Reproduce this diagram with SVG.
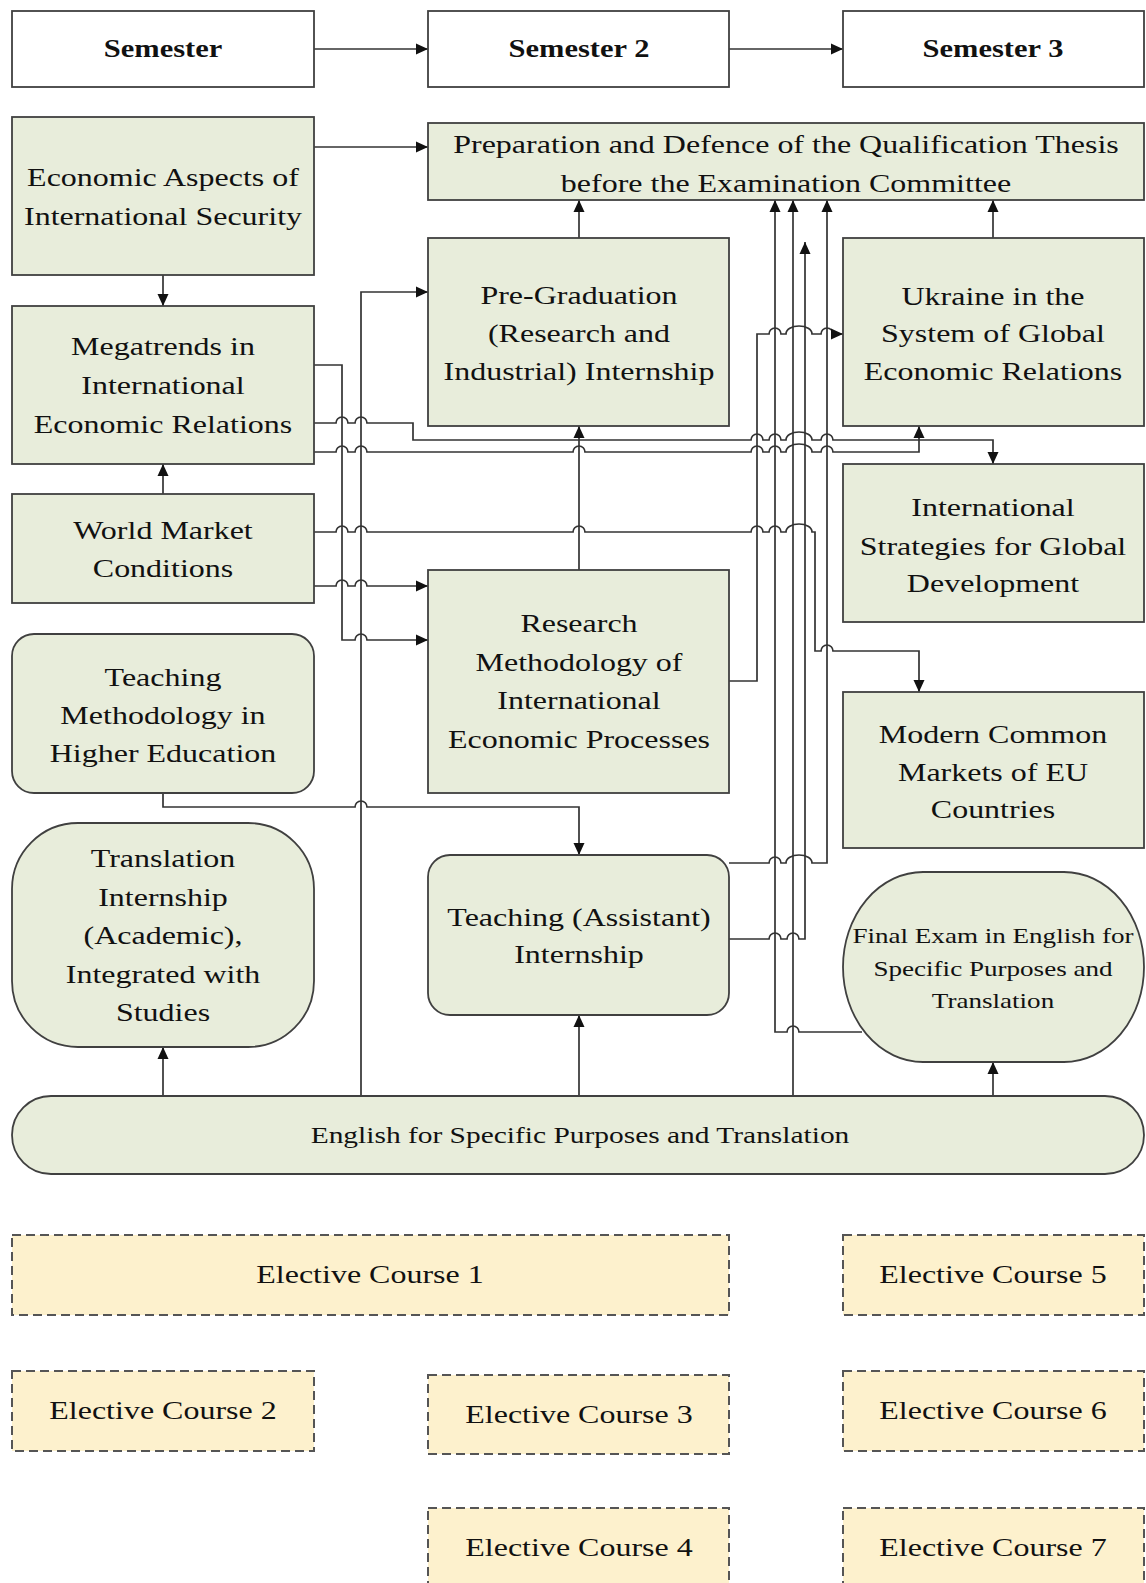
<svg xmlns="http://www.w3.org/2000/svg" width="1146" height="1583" viewBox="0 0 1146 1583">
<defs>
<marker id="ah" markerUnits="userSpaceOnUse" markerWidth="13" markerHeight="12" refX="12" refY="6" orient="auto">
<path d="M0,0.5 L12,6 L0,11.5 z" fill="#111"/>
</marker>
<style>
.hd{fill:#fff;stroke:#404040;stroke-width:1.8}
.n{fill:#e8eddb;stroke:#404040;stroke-width:1.8}
.el{fill:#fdf1cd;stroke:#555;stroke-width:2;stroke-dasharray:9 5}
.t{font-family:"Liberation Serif","Times New Roman",serif;font-size:25px;fill:#111;text-anchor:middle}
.b{font-weight:bold}
.s{font-size:21.5px}
.e{font-size:23px}
.c{fill:none;stroke:#333;stroke-width:1.7;marker-end:url(#ah)}
</style>
</defs>
<rect width="1146" height="1583" fill="#fff"/>

<g id="connectors">
<path class="c" d="M314 49 H428"/>
<path class="c" d="M729 49 H843"/>
<path class="c" d="M314 147 H428"/>
<path class="c" d="M163 275 V306"/>
<path class="c" d="M163 494 V464"/>
<path class="c" d="M163 1096 V1047"/>
<path class="c" d="M579 1096 V1015"/>
<path class="c" d="M993 1096 V1062"/>
<path class="c" d="M579 238 V200"/>
<path class="c" d="M993 238 V200"/>
<path class="c" d="M579 570 V426"/>
<path class="c" d="M163 793 V807 H355 A6 6 0 0 1 367 807 H579 V855"/>
<path class="c" d="M361 1096 V292 H428"/>
<path class="c" d="M314 365 H342 V640 H355 A6 6 0 0 1 367 640 H428"/>
<path class="c" d="M314 586 H336 A6 6 0 0 1 348 586 H355 A6 6 0 0 1 367 586 H428"/>
<path class="c" d="M314 532 H336 A6 6 0 0 1 348 532 H355 A6 6 0 0 1 367 532 H573 A6 6 0 0 1 585 532 H751 A6 6 0 0 1 763 532 H769 A6 6 0 0 1 781 532 H786 A13 8 0 0 1 812 532 H815 V651 H821 A6 6 0 0 1 833 651 H919 V692"/>
<path class="c" d="M314 423 H336 A6 6 0 0 1 348 423 H355 A6 6 0 0 1 367 423 H413 V440 H751 A6 6 0 0 1 763 440 H769 A6 6 0 0 1 781 440 H786 A13 8 0 0 1 812 440 H821 A6 6 0 0 1 833 440 H993 V464"/>
<path class="c" d="M314 452 H336 A6 6 0 0 1 348 452 H355 A6 6 0 0 1 367 452 H573 A6 6 0 0 1 585 452 H751 A6 6 0 0 1 763 452 H769 A6 6 0 0 1 781 452 H786 A13 8 0 0 1 812 452 H821 A6 6 0 0 1 833 452 H919 V426"/>
<path class="c" d="M729 681 H757 V334 H769 A6 6 0 0 1 781 334 H786 A13 8 0 0 1 812 334 H821 A6 6 0 0 1 833 334 H843"/>
<path class="c" d="M862 1032 H799 A6 6 0 0 0 787 1032 H775 V200"/>
<path class="c" d="M793 1096 V200"/>
<path class="c" d="M729 939 H769 A6 6 0 0 1 781 939 H787 A6 6 0 0 1 799 939 H805 V242"/>
<path class="c" d="M729 863 H769 A6 6 0 0 1 781 863 H786 A13 8 0 0 1 812 863 H827 V200"/>
</g>

<g id="sem1"><rect class="hd" x="12" y="11" width="302" height="76"/><text class="t b" transform="translate(163 57) scale(1.22 1)">Semester</text></g>
<g id="sem2"><rect class="hd" x="428" y="11" width="301" height="76"/><text class="t b" transform="translate(579 57) scale(1.22 1)">Semester 2</text></g>
<g id="sem3"><rect class="hd" x="843" y="11" width="301" height="76"/><text class="t b" transform="translate(993 57) scale(1.22 1)">Semester 3</text></g>

<g id="econ-aspects"><rect class="n" x="12" y="117" width="302" height="158"/>
<text class="t" transform="translate(163 186) scale(1.28 1)">Economic Aspects of</text>
<text class="t" transform="translate(163 225) scale(1.28 1)">International Security</text></g>

<g id="megatrends"><rect class="n" x="12" y="306" width="302" height="158"/>
<text class="t" transform="translate(163 355) scale(1.28 1)">Megatrends in</text>
<text class="t" transform="translate(163 394) scale(1.28 1)">International</text>
<text class="t" transform="translate(163 433) scale(1.28 1)">Economic Relations</text></g>

<g id="world-market"><rect class="n" x="12" y="494" width="302" height="109"/>
<text class="t" transform="translate(163 539) scale(1.28 1)">World Market</text>
<text class="t" transform="translate(163 577) scale(1.28 1)">Conditions</text></g>

<g id="teaching-method"><rect class="n" x="12" y="634" width="302" height="159" rx="22" ry="22"/>
<text class="t" transform="translate(163 686) scale(1.28 1)">Teaching</text>
<text class="t" transform="translate(163 724) scale(1.28 1)">Methodology in</text>
<text class="t" transform="translate(163 762) scale(1.28 1)">Higher Education</text></g>

<g id="translation-internship"><rect class="n" x="12" y="823" width="302" height="224" rx="66" ry="66"/>
<text class="t" transform="translate(163 867) scale(1.28 1)">Translation</text>
<text class="t" transform="translate(163 906) scale(1.28 1)">Internship</text>
<text class="t" transform="translate(163 944) scale(1.28 1)">(Academic),</text>
<text class="t" transform="translate(163 983) scale(1.28 1)">Integrated with</text>
<text class="t" transform="translate(163 1021) scale(1.28 1)">Studies</text></g>

<g id="thesis"><rect class="n" x="428" y="123" width="716" height="77"/>
<text class="t" transform="translate(786 153) scale(1.28 1)">Preparation and Defence of the Qualification Thesis</text>
<text class="t" transform="translate(786 192) scale(1.28 1)">before the Examination Committee</text></g>

<g id="pre-graduation"><rect class="n" x="428" y="238" width="301" height="188"/>
<text class="t" transform="translate(579 304) scale(1.28 1)">Pre-Graduation</text>
<text class="t" transform="translate(579 342) scale(1.28 1)">(Research and</text>
<text class="t" transform="translate(579 380) scale(1.28 1)">Industrial) Internship</text></g>

<g id="research-method"><rect class="n" x="428" y="570" width="301" height="223"/>
<text class="t" transform="translate(579 632) scale(1.28 1)">Research</text>
<text class="t" transform="translate(579 671) scale(1.28 1)">Methodology of</text>
<text class="t" transform="translate(579 709) scale(1.28 1)">International</text>
<text class="t" transform="translate(579 748) scale(1.28 1)">Economic Processes</text></g>

<g id="teaching-assistant"><rect class="n" x="428" y="855" width="301" height="160" rx="22" ry="22"/>
<text class="t" transform="translate(579 926) scale(1.28 1)">Teaching (Assistant)</text>
<text class="t" transform="translate(579 963) scale(1.28 1)">Internship</text></g>

<g id="ukraine"><rect class="n" x="843" y="238" width="301" height="188"/>
<text class="t" transform="translate(993 305) scale(1.28 1)">Ukraine in the</text>
<text class="t" transform="translate(993 342) scale(1.28 1)">System of Global</text>
<text class="t" transform="translate(993 380) scale(1.28 1)">Economic Relations</text></g>

<g id="intl-strategies"><rect class="n" x="843" y="464" width="301" height="158"/>
<text class="t" transform="translate(993 516) scale(1.28 1)">International</text>
<text class="t" transform="translate(993 555) scale(1.28 1)">Strategies for Global</text>
<text class="t" transform="translate(993 592) scale(1.28 1)">Development</text></g>

<g id="eu-markets"><rect class="n" x="843" y="692" width="301" height="156"/>
<text class="t" transform="translate(993 743) scale(1.28 1)">Modern Common</text>
<text class="t" transform="translate(993 781) scale(1.28 1)">Markets of EU</text>
<text class="t" transform="translate(993 818) scale(1.28 1)">Countries</text></g>

<g id="final-exam"><rect class="n" x="843" y="872" width="301" height="190" rx="80" ry="95"/>
<text class="t s" transform="translate(993 943) scale(1.26 1)">Final Exam in English for</text>
<text class="t s" transform="translate(993 976) scale(1.26 1)">Specific Purposes and</text>
<text class="t s" transform="translate(993 1008) scale(1.26 1)">Translation</text></g>

<g id="english"><rect class="n" x="12" y="1096" width="1132" height="78" rx="39" ry="39"/>
<text class="t e" transform="translate(580 1143) scale(1.28 1)">English for Specific Purposes and Translation</text></g>

<g id="elective1"><rect class="el" x="12" y="1235" width="717" height="80"/><text class="t" transform="translate(370 1283) scale(1.28 1)">Elective Course 1</text></g>
<g id="elective2"><rect class="el" x="12" y="1371" width="302" height="80"/><text class="t" transform="translate(163 1419) scale(1.28 1)">Elective Course 2</text></g>
<g id="elective3"><rect class="el" x="428" y="1375" width="301" height="79"/><text class="t" transform="translate(579 1423) scale(1.28 1)">Elective Course 3</text></g>
<g id="elective4"><rect class="el" x="428" y="1508" width="301" height="90"/><text class="t" transform="translate(579 1556) scale(1.28 1)">Elective Course 4</text></g>
<g id="elective5"><rect class="el" x="843" y="1235" width="301" height="80"/><text class="t" transform="translate(993 1283) scale(1.28 1)">Elective Course 5</text></g>
<g id="elective6"><rect class="el" x="843" y="1371" width="301" height="80"/><text class="t" transform="translate(993 1419) scale(1.28 1)">Elective Course 6</text></g>
<g id="elective7"><rect class="el" x="843" y="1508" width="301" height="90"/><text class="t" transform="translate(993 1556) scale(1.28 1)">Elective Course 7</text></g>
</svg>
